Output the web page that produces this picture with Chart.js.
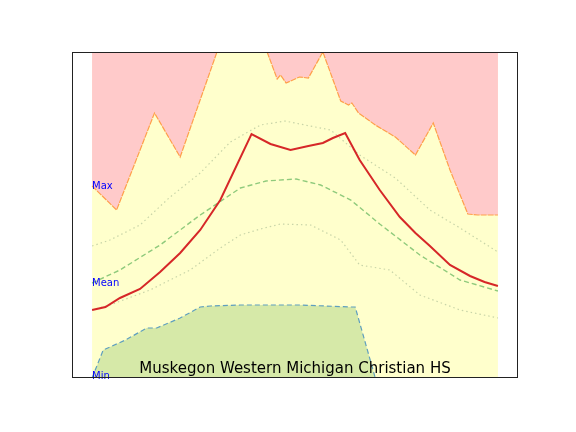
<!DOCTYPE html>
<html>
<head>
<meta charset="utf-8">
<script src="https://cdn.jsdelivr.net/npm/chart.js@4"></script>
<style>
  body { margin: 0; background: #fff; }
  #wrap { width: 576px; height: 432px; }
</style>
</head>
<body>
<div id="wrap"><canvas id="chart" width="576" height="432"></canvas></div>
<script>
// day of year and temperature-like values
const maxDays = [1, 23, 57, 80, 113, 135, 158, 167, 170, 175, 187, 195, 208, 224, 231, 234, 240, 255, 273, 291, 307, 322, 338, 347, 365];
const maxVals = [192, 168, 265, 221, 326, 360, 326, 299, 303, 295, 301, 300, 326, 277, 273, 275, 265, 253, 241, 223, 255, 208, 164, 163, 163];

const minDays = [1, 11, 31, 50, 59, 80, 98, 107, 134, 188, 232, 237, 255, 277, 365];
const minVals = [0, 28, 38, 50, 50, 60, 71, 72, 73, 73, 71, 71, 0, -30, -30];

const yearDays = [1, 13, 26, 44, 62, 80, 98, 116, 144, 161, 179, 195, 208, 217, 228, 241, 259, 277, 291, 304, 322, 340, 353, 365];
const yearVals = [68, 71, 80, 89, 106, 125, 148, 178, 244, 234, 228, 232, 235, 240, 245, 218, 188, 161, 145, 132, 113, 102, 96, 92];

const meanDays = [1, 26, 62, 98, 134, 157, 184, 206, 233, 259, 295, 331, 365];
const meanVals = [95, 108, 133, 163, 190, 197, 199, 193, 178, 154, 123, 98, 87];

const upperDays = [1, 17, 44, 71, 98, 125, 152, 174, 192, 215, 241, 273, 304, 331, 365];
const upperVals = [132, 138, 153, 181, 205, 236, 253, 257, 253, 248, 223, 200, 168, 150, 126];

const lowerDays = [1, 17, 53, 89, 116, 134, 152, 170, 197, 224, 241, 268, 295, 331, 365];
const lowerVals = [68, 73, 88, 108, 130, 143, 149, 154, 153, 138, 113, 108, 83, 68, 60];

const title = 'Muskegon Western Michigan Christian HS';

const pts = (xs, ys) => xs.map((x, i) => ({ x: x, y: ys[i] }));

const labelsPlugin = {
  id: 'labels',
  afterDatasetsDraw(chart) {
    const { ctx, chartArea, scales } = chart;
    ctx.save();
    ctx.fillStyle = '#0000ff';
    ctx.font = '10px "DejaVu Sans"';
    ctx.textBaseline = 'middle';
    const x0 = scales.x.getPixelForValue(1);
    ctx.fillText('Max', x0, scales.y.getPixelForValue(maxVals[0]));
    ctx.fillText('Mean', x0, scales.y.getPixelForValue(meanVals[0]));
    ctx.fillText('Min', x0, scales.y.getPixelForValue(2));
    ctx.fillStyle = '#000';
    ctx.font = '15px "DejaVu Sans"';
    ctx.textAlign = 'center';
    ctx.fillText(title, (chartArea.left + chartArea.right) / 2 + 0, chartArea.bottom - 9);
    ctx.strokeStyle = '#222';
    ctx.lineWidth = 1;
    ctx.strokeRect(chartArea.left + 0.5, chartArea.top + 0.5, chartArea.width - 1, chartArea.height - 1);
    ctx.restore();
  }
};

const line = (data, color, dash, width, fill, bg, order) => ({
  data: data, borderColor: color, borderDash: dash, borderWidth: width,
  fill: fill, backgroundColor: bg, pointRadius: 0, tension: 0, order: order
});

new Chart(document.getElementById('chart'), {
  type: 'line',
  data: {
    datasets: [
      line(pts([1, 365], [400, 400]), 'rgba(0,0,0,0)', [], 0, 'start', '#ffffcc', 10),
      line(pts(maxDays, maxVals), '#ff9f4a', [6, 1], 1.2, 'end', '#ffcaca', 9),
      line(pts(minDays, minVals), '#5f9fbf', [5, 3], 1.2, 'start', '#d6e9a8', 8),
      line(pts(upperDays, upperVals), '#c8d4a8', [1.5, 3], 1.2, false, 'transparent', 5),
      line(pts(lowerDays, lowerVals), '#c8d4a8', [1.5, 3], 1.2, false, 'transparent', 5),
      line(pts(meanDays, meanVals), '#8fca7c', [5, 3], 1.4, false, 'transparent', 4),
      line(pts(yearDays, yearVals), '#d62728', [], 2, false, 'transparent', 1)
    ]
  },
  options: {
    responsive: false,
    animation: false,
    layout: { padding: { left: 72, right: 58, top: 52, bottom: 54 } },
    plugins: { legend: { display: false }, tooltip: { enabled: false } },
    scales: {
      x: { type: 'linear', min: -17, max: 383, display: false },
      y: { min: 0, max: 326, display: false }
    }
  },
  plugins: [labelsPlugin]
});
</script>
</body>
</html>
